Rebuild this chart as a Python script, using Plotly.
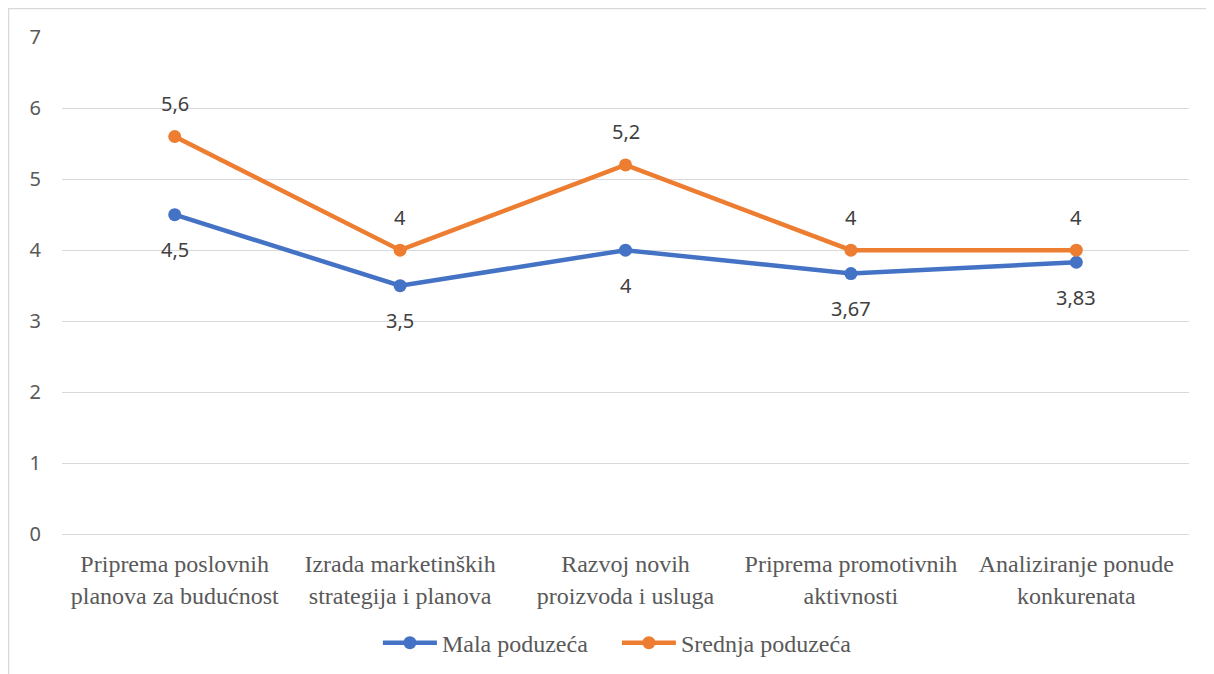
import plotly.graph_objects as go

categories = [
    "Priprema poslovnih<br>planova za budućnost",
    "Izrada marketinških<br>strategija i planova",
    "Razvoj novih<br>proizvoda i usluga",
    "Priprema promotivnih<br>aktivnosti",
    "Analiziranje ponude<br>konkurenata",
]
mala = [4.5, 3.5, 4, 3.67, 3.83]
srednja = [5.6, 4, 5.2, 4, 4]
series_names = ["Mala poduzeća", "Srednja poduzeća"]
colors = ["#4472C4", "#ED7D31"]
y_ticks = [0, 1, 2, 3, 4, 5, 6, 7]


def fmt(v):
    s = ("%g" % v)
    return s.replace(".", ",")


fig = go.Figure()
for name, vals, col in zip(series_names, [mala, srednja], colors):
    fig.add_trace(go.Scatter(
        x=categories, y=vals, name=name, mode="lines+markers",
        line=dict(color=col, width=4.5),
        marker=dict(color=col, size=13),
    ))

annotations = []
for vals, shift in [(mala, -35), (srednja, 33)]:
    for c, v in zip(categories, vals):
        annotations.append(dict(
            x=c, y=v, text=fmt(v), showarrow=False, yshift=shift,
            font=dict(family="Noto Sans, sans-serif", size=20, color="#404040"),
        ))

# page body has an 8px margin, so figure is offset by (8, 8)
fig.update_layout(
    width=1206, height=666,
    margin=dict(l=54, r=24.5, t=29, b=138),
    paper_bgcolor="white", plot_bgcolor="white",
    showlegend=True,
    legend=dict(
        orientation="h", x=0.2803, xanchor="left",
        yref="container", y=0.0465, yanchor="middle",
        font=dict(family="Liberation Serif, serif", size=24, color="#595959"),
        itemwidth=54, entrywidth=170, entrywidthmode="pixels",
    ),
    annotations=annotations,
    shapes=[dict(
        type="rect", xref="paper", yref="paper",
        x0=-0.04745, x1=1.2, y0=-0.6, y1=1.0571,
        line=dict(color="#d9d9d9", width=1.5), layer="below",
    )],
)
fig.update_xaxes(
    showgrid=False, showline=True, linecolor="#d9d9d9", linewidth=1.3,
    zeroline=False, ticks="",
    tickfont=dict(family="Liberation Serif, serif", size=24, color="#595959"),
    ticklabelstandoff=8,
    range=[-0.5, 4.5],
)
fig.update_yaxes(
    range=[0, 7], tickvals=y_ticks, showgrid=True, gridcolor="#d9d9d9", gridwidth=1.3,
    zeroline=False, showline=False, ticks="",
    tickfont=dict(family="Noto Sans, sans-serif", size=20, color="#595959"),
    ticklabelstandoff=20,
)

fig.write_html("out.html")
